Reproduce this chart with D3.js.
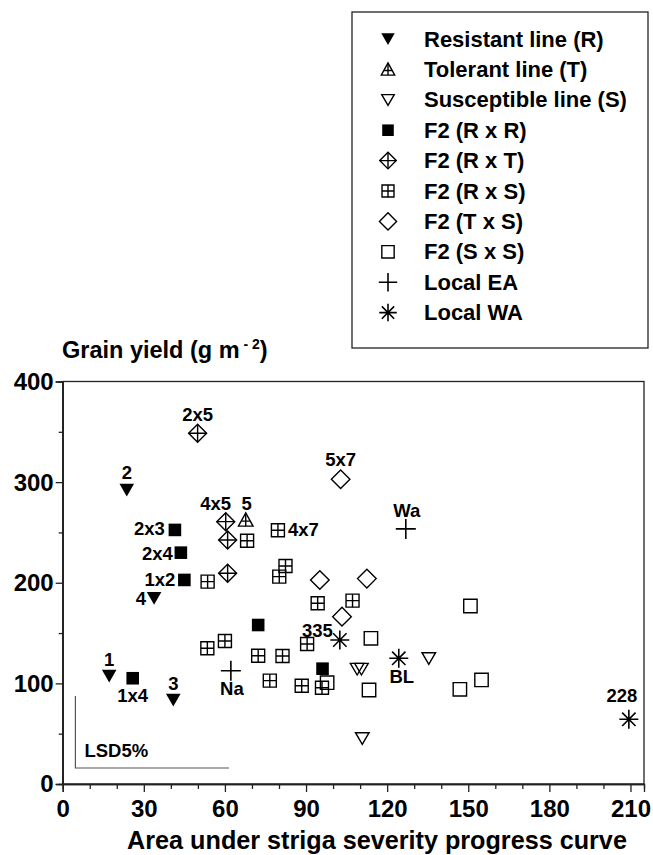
<!DOCTYPE html>
<html><head><meta charset="utf-8">
<script src="https://cdn.jsdelivr.net/npm/d3@7"></script>
<style>
body{margin:0;background:#fff}
text{font-family:"Liberation Sans",Arial,Helvetica,sans-serif;font-weight:bold;fill:#000}
</style>
</head><body>
<svg id="c" width="653" height="855"></svg>
<script>
// ---------- DATA ----------
const seriesNames = ["Resistant line (R)","Tolerant line (T)","Susceptible line (S)","F2 (R x R)","F2 (R x T)","F2 (R x S)","F2 (T x S)","F2 (S x S)","Local EA","Local WA"];
const seriesTypes = ["R","T","S","RR","RT","RS","TS","SS","EA","WA"];

const resistantX = [17.2, 23.7, 40.9, 33.8];
const resistantY = [107.4, 292.2, 83.5, 184.6];
const resistantLabels = ["1","2","3","4"];

const tolerantX = [67.7];
const tolerantY = [262.4];
const tolerantLabels = ["5"];

const susceptibleX = [108.9, 110.5, 135.4, 110.8];
const susceptibleY = [114.3, 114.3, 124.9, 45.4];
const susceptibleLabels = ["","","",""];

const rrX = [41.5, 43.7, 45.0, 25.9, 72.3, 96.1];
const rrY = [252.5, 229.9, 202.8, 105.1, 158.0, 114.6];
const rrLabels = ["2x3","2x4","1x2","1x4","",""];

const rtX = [49.9, 60.3, 61.0, 61.0];
const rtY = [348.6, 260.7, 242.5, 209.4];
const rtLabels = ["2x5","4x5","",""];

const rsX = [68.2, 53.6, 79.6, 82.4, 80.1, 94.3, 107.2, 90.4, 72.3, 81.3, 76.6, 88.4, 95.9, 53.5, 60.0];
const rsY = [241.8, 201.1, 252.2, 216.7, 206.1, 179.6, 182.2, 139.2, 127.5, 127.2, 102.7, 97.7, 95.7, 134.9, 142.1];
const rsLabels = ["","","4x7","","","","","","","","","","","",""];

const tsX = [102.8, 95.1, 112.5, 103.3];
const tsY = [302.9, 202.8, 204.1, 166.3];
const tsLabels = ["5x7","","",""];

const ssX = [114.0, 97.8, 113.3, 150.8, 154.9, 146.9];
const ssY = [144.8, 100.7, 93.4, 176.9, 103.4, 94.1];
const ssLabels = ["","","","","",""];

const eaX = [126.9, 62.2];
const eaY = [253.5, 112.6];
const eaLabels = ["Wa","Na"];

const waX = [102.5, 124.3, 209.4];
const waY = [143.1, 124.9, 64.3];
const waLabels = ["335","BL","228"];

const xTicks = [0,30,60,90,120,150,180,210];
const xMinorTicks = d3.range(0, 215, 10);
const yTicks = [0,100,200,300,400];
const yMinorTicks = [50,150,250,350];
const xDomain = [0, 215];
const yDomain = [0, 400];
const lsdOrigin = [4.7, 15.9];   // x, y of LSD corner
const lsdSize = [56.8, 71.6];    // LSD 5% for x and y
const xTitle = "Area under striga severity progress curve";
const yTitle = "Grain yield (g m";

// ---------- LAYOUT ----------
const svg = d3.select("#c");
const L = 62.7, R = 644, T = 381.5, B = 784;
const x = d3.scaleLinear().domain(xDomain).range([L, R]);
const y = d3.scaleLinear().domain(yDomain).range([B, T]);

const allX = [resistantX,tolerantX,susceptibleX,rrX,rtX,rsX,tsX,ssX,eaX,waX];
const allY = [resistantY,tolerantY,susceptibleY,rrY,rtY,rsY,tsY,ssY,eaY,waY];
const allL = [resistantLabels,tolerantLabels,susceptibleLabels,rrLabels,rtLabels,rsLabels,tsLabels,ssLabels,eaLabels,waLabels];

// label placement: [dx, dy, anchor]
const labelPlacement = {
  "1":[0,-10,"middle"], "2":[0,-11,"middle"], "3":[0,-10,"middle"], "4":[-8,7,"end"],
  "5":[1,-10,"middle"],
  "2x3":[-10,5,"end"], "2x4":[-8,7,"end"], "1x2":[-9,6,"end"], "1x4":[0,24,"middle"],
  "2x5":[0,-12,"middle"], "4x5":[-10,-12,"middle"],
  "4x7":[10,6,"start"], "5x7":[0,-13,"middle"],
  "Wa":[1,-12,"middle"], "Na":[1,24,"middle"],
  "335":[-7,-3,"end"], "BL":[3,25,"middle"], "228":[-7,-17,"middle"]
};

const SW = 1.4;
function drawMarker(g, type, k) {
  k = k || 1;
  const s = v => v * k;
  const open = {fill:"none", stroke:"#000", "stroke-width":SW};
  function p(d, attrs) {
    const e = g.append("path").attr("d", d);
    Object.entries(attrs).forEach(([a,v]) => e.attr(a, v));
  }
  switch (type) {
    case "R":
      p(`M${s(-7.3)},${s(-6.2)}L${s(7.3)},${s(-6.2)}L0,${s(6.5)}Z`, {fill:"#000"}); break;
    case "T":
      p(`M0,${s(-7)}L${s(7.3)},${s(6.2)}L${s(-7.3)},${s(6.2)}Z`, open);
      p(`M0,${s(-7)}L0,${s(6.2)}M${s(-4.2)},${s(1.2)}L${s(4.2)},${s(1.2)}`, open); break;
    case "S":
      p(`M${s(-6.8)},${s(-5.6)}L${s(6.8)},${s(-5.6)}L0,${s(6)}Z`, open); break;
    case "RR":
      p(`M${s(-6.3)},${s(-6.3)}h${s(12.6)}v${s(12.6)}h${s(-12.6)}Z`, {fill:"#000"}); break;
    case "RT":
      p(`M0,${s(-9)}L${s(9)},0L0,${s(9)}L${s(-9)},0Z`, open);
      p(`M0,${s(-9)}L0,${s(9)}M${s(-9)},0L${s(9)},0`, open); break;
    case "RS":
      p(`M${s(-6.5)},${s(-6.5)}h${s(13)}v${s(13)}h${s(-13)}Z`, open);
      p(`M0,${s(-6.5)}V${s(6.5)}M${s(-6.5)},0H${s(6.5)}`, open); break;
    case "TS":
      p(`M0,${s(-9.3)}L${s(9.3)},0L0,${s(9.3)}L${s(-9.3)},0Z`, open); break;
    case "SS":
      p(`M${s(-6.7)},${s(-6.7)}h${s(13.4)}v${s(13.4)}h${s(-13.4)}Z`, open); break;
    case "EA":
      p(`M${s(-10)},0H${s(10)}M0,${s(-10)}V${s(10)}`, {fill:"none",stroke:"#000","stroke-width":1.6}); break;
    case "WA":
      p(`M${s(-9.5)},0H${s(9.5)}M0,${s(-9.5)}V${s(9.5)}M${s(-6.7)},${s(-6.7)}L${s(6.7)},${s(6.7)}M${s(-6.7)},${s(6.7)}L${s(6.7)},${s(-6.7)}`, {fill:"none",stroke:"#000","stroke-width":1.6}); break;
  }
}

// ---------- AXES ----------
const frame = svg.append("g");
frame.append("rect").attr("x", L).attr("y", T).attr("width", R - L).attr("height", B - T)
  .attr("fill","none").attr("stroke","#222").attr("stroke-width",1.3);

const xAxisG = svg.append("g").attr("transform", `translate(0,${B})`)
  .call(d3.axisBottom(x).tickValues(xTicks).tickSize(8).tickPadding(3).tickFormat(d3.format("d")));
const xMinorG = svg.append("g").attr("transform", `translate(0,${B})`)
  .call(d3.axisBottom(x).tickValues(xMinorTicks.filter(v => !xTicks.includes(v))).tickSize(5).tickFormat(""));
const yAxisG = svg.append("g").attr("transform", `translate(${L},0)`)
  .call(d3.axisLeft(y).tickValues(yTicks).tickSize(7).tickPadding(2).tickFormat(d3.format("d")));
const yMinorG = svg.append("g").attr("transform", `translate(${L},0)`)
  .call(d3.axisLeft(y).tickValues(yMinorTicks).tickSize(4).tickFormat(""));
[xAxisG, xMinorG, yAxisG, yMinorG].forEach(g => {
  g.select(".domain").attr("stroke","#222").attr("stroke-width",1.3);
  g.selectAll(".tick line").attr("stroke","#222").attr("stroke-width",1.3);
});
xAxisG.selectAll("text").style("font-size","24px").attr("dy", "0.92em");
yAxisG.selectAll("text").style("font-size","24px").attr("dy","0.33em");

svg.append("text").attr("x", 377).attr("y", 849).attr("text-anchor","middle")
  .style("font-size","25.2px").text(xTitle);

const yt = svg.append("text").attr("x", 62).attr("y", 358).style("font-size","23.5px");
yt.append("tspan").text(yTitle);
yt.append("tspan").attr("dy", -9).style("font-size","14px").text(" - 2");
yt.append("tspan").attr("dy", 9).text(")");

// ---------- LSD ----------
const lsdG = svg.append("g");
lsdG.append("path")
  .attr("d", `M${x(lsdOrigin[0])},${y(lsdOrigin[1] + lsdSize[1])}V${y(lsdOrigin[1])}H${x(lsdOrigin[0] + lsdSize[0])}`)
  .attr("fill","none").attr("stroke","#555").attr("stroke-width",1.2);
lsdG.append("text").attr("x", x(lsdOrigin[0]) + 9).attr("y", y(lsdOrigin[1]) - 11)
  .style("font-size","18.5px").text("LSD5%");

// ---------- POINTS ----------
const pts = svg.append("g");
const labs = svg.append("g");
seriesTypes.forEach((t, i) => {
  allX[i].forEach((xv, j) => {
    const g = pts.append("g").attr("transform", `translate(${x(xv)},${y(allY[i][j])})`);
    drawMarker(g, t, 1);
    const lab = allL[i][j];
    if (lab) {
      const pl = labelPlacement[lab] || [0,-12,"middle"];
      labs.append("text").attr("x", x(xv) + pl[0]).attr("y", y(allY[i][j]) + pl[1])
        .attr("text-anchor", pl[2]).style("font-size","18.5px").text(lab);
    }
  });
});

// ---------- LEGEND ----------
const lg = svg.append("g");
lg.append("rect").attr("x", 352).attr("y", 12).attr("width", 296).attr("height", 336)
  .attr("fill","#fff").attr("stroke","#222").attr("stroke-width",1.3);
seriesNames.forEach((n, i) => {
  const cy = 39 + i * 30.4;
  const g = lg.append("g").attr("transform", `translate(388,${cy})`);
  drawMarker(g, seriesTypes[i], 0.92);
  lg.append("text").attr("x", 424).attr("y", cy + 7.5).style("font-size","22px").text(n);
});
</script>
</body></html>
